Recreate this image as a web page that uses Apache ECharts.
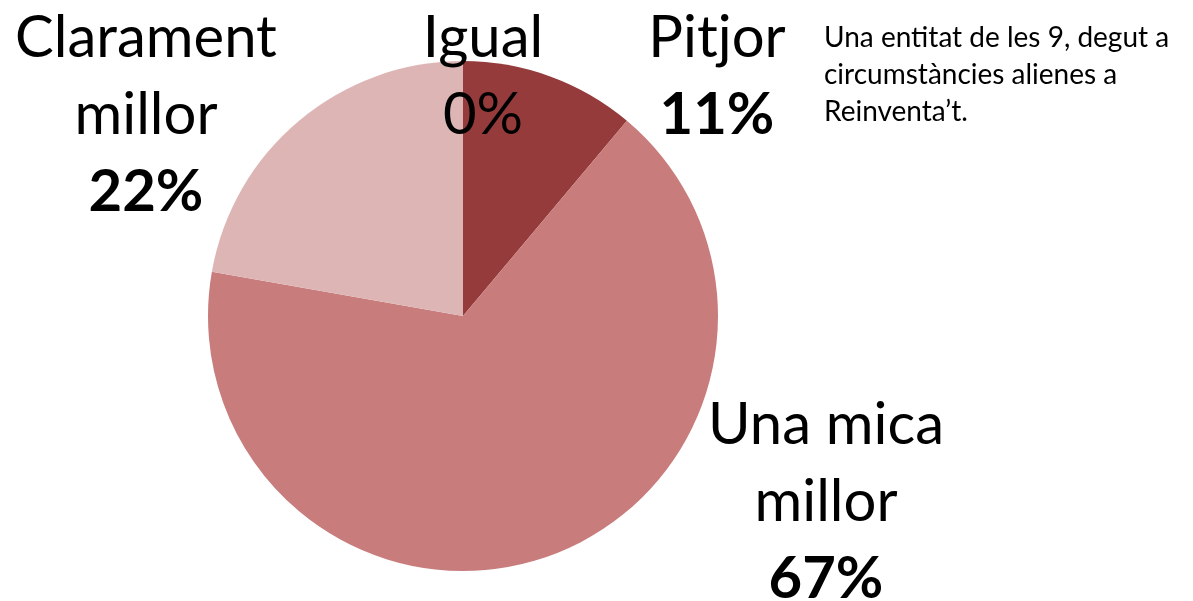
<!DOCTYPE html>
<html>
<head>
<meta charset="utf-8">
<script src="https://cdn.jsdelivr.net/npm/echarts@6/dist/echarts.min.js"></script>
<style>html,body{margin:0;padding:0;background:#fff;}#c{width:1193px;height:601px;}</style>
</head>
<body>
<div id="c"></div>
<script>
const categories = ['Pitjor', 'Una mica millor', 'Clarament millor', 'Igual'];
const labelLines = [['Pitjor'], ['Una mica', 'millor'], ['Clarament', 'millor'], ['Igual']];
const values = [1, 6, 2, 0];
const note = "Una entitat de les 9, degut a\ncircumstàncies alienes a\nReinventa’t.";

const colors = ['#953b3b', '#c97c7c', '#deb5b5', '#deb5b5'];
const labelCenters = [[717, 77], [826, 502], [146, 115], [483, 77]];
const boldPct = [true, true, true, false];
const FONT = 'Lato';

const chart = echarts.init(document.getElementById('c'));
chart.setOption({
  animation: false,
  backgroundColor: '#fff',
  graphic: [{
    type: 'text', left: 824, top: 19,
    style: { text: note, font: '28px ' + FONT, fill: '#000', lineHeight: 37 }
  }],
  series: [{
    type: 'pie',
    center: [463, 316],
    radius: [0, 255],
    startAngle: 90,
    clockwise: true,
    percentPrecision: 0,
    avoidLabelOverlap: false,
    labelLine: { show: false },
    itemStyle: { borderWidth: 0 },
    data: categories.map((c, i) => ({ name: c, value: values[i], itemStyle: { color: colors[i] } })),
    label: {
      show: true,
      position: 'outside',
      color: '#000',
      fontFamily: FONT,
      formatter: p => labelLines[p.dataIndex].map(l => '{n|' + l + '}').join('\n') +
        '\n{' + (boldPct[p.dataIndex] ? 'b' : 'n') + '|' + Math.round(p.percent) + '%}',
      rich: {
        n: { fontSize: 58, fontFamily: FONT, lineHeight: 77, color: '#000', align: 'center' },
        b: { fontSize: 58, fontFamily: FONT, fontWeight: 'bold', lineHeight: 77, color: '#000', align: 'center' }
      }
    },
    labelLayout: p => ({
      x: labelCenters[p.dataIndex][0],
      y: labelCenters[p.dataIndex][1],
      align: 'center',
      verticalAlign: 'middle'
    })
  }]
});
</script>
</body>
</html>
